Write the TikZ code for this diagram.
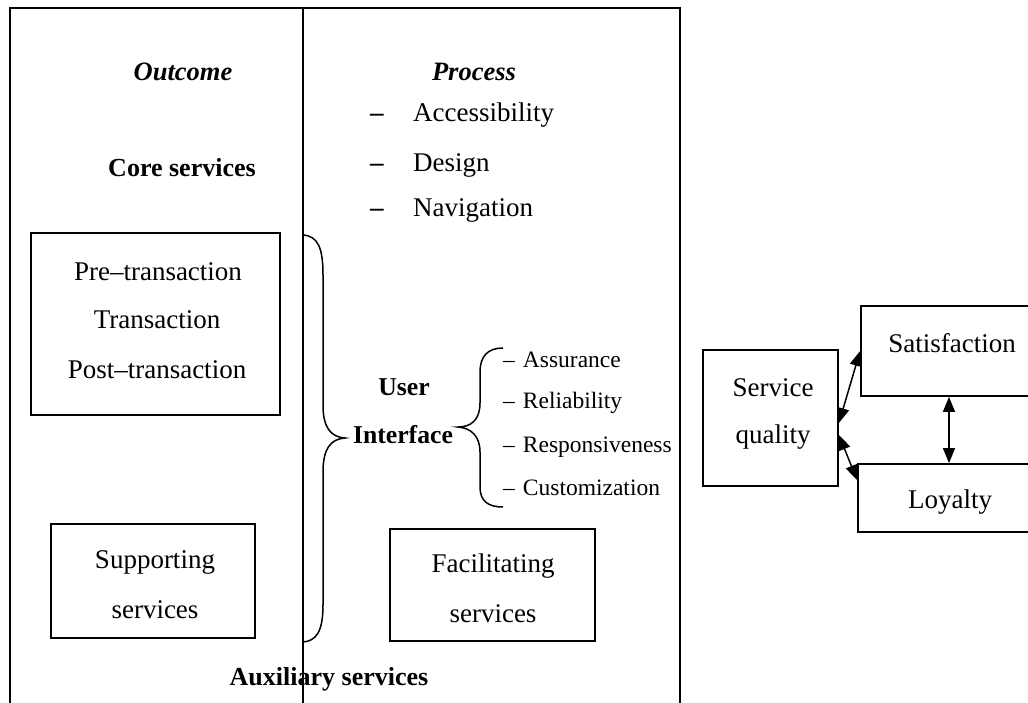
\documentclass[tikz,border=0pt]{standalone}
\usepackage{fontspec}
\setmainfont{Liberation Serif}
\usetikzlibrary{arrows.meta}
\begin{document}
\begin{tikzpicture}[x=1pt,y=-1pt,
  frame/.style={line width=1.8pt},
  boxnode/.style={draw, line width=1.8pt, inner sep=0pt},
  txt/.style={inner sep=0pt, font=\fontsize{27}{32}\selectfont},
  btxt/.style={inner sep=0pt, font=\fontsize{26}{31}\selectfont\bfseries},
  bitxt/.style={inner sep=0pt, font=\fontsize{26.5}{31}\selectfont\bfseries\itshape},
  stxt/.style={inner sep=0pt, font=\fontsize{23.5}{28}\selectfont},
  uitxt/.style={inner sep=0pt, font=\fontsize{25.7}{30}\selectfont\bfseries},
  brace/.style={line width=1.5pt},
  dbl/.style={line width=1.5pt, {Triangle[length=15pt,width=12pt]}-{Triangle[length=15pt,width=12pt]}}
]
\useasboundingbox[fill=white] (0,0) rectangle (1028,702);

% panels
\draw[frame] (10,720) -- (10,8) -- (680,8) -- (680,720);
\draw[frame] (303,8) -- (303,720);

% headings
\node[bitxt] (outcome) at (183,72) {Outcome};
\node[bitxt] (process) at (474,72) {Process};
\node[btxt] (core) at (182,168) {Core services};

% process list
\node[txt, anchor=west] (acc) at (370,115) {{\bfseries –}\hspace{29.5pt}Accessibility};
\node[txt, anchor=west] (des) at (370,165) {{\bfseries –}\hspace{29.5pt}Design};
\node[txt, anchor=west] (nav) at (370,210) {{\bfseries –}\hspace{29.5pt}Navigation};

% left boxes
\node[boxnode, minimum width=249pt, minimum height=182pt] (pre) at (155.5,324) {};
\node[txt] (pre1) at (158,272) {Pre–transaction};
\node[txt] (pre2) at (157,320) {Transaction};
\node[txt] (pre3) at (157,370) {Post–transaction};

\node[boxnode, minimum width=204pt, minimum height=114pt] (supp) at (153,581) {};
\node[txt] (supp1) at (155,562) {Supporting};
\node[txt] (supp2) at (155,610) {services};

% big brace
\draw[brace] (303,235) .. controls (318,236) and (323,248) .. (323,275)
  -- (323,405) .. controls (323,428) and (331,437) .. (345,438)
  .. controls (331,439) and (323,448) .. (323,472)
  -- (323,605) .. controls (323,632) and (316,641) .. (303,642);

% user interface
\node[uitxt] (user) at (404,387) {User};
\node[uitxt] (iface) at (403,435) {Interface};

% small brace
\draw[brace] (503,348) .. controls (488,348) and (480,356) .. (480,372)
  -- (480,403) .. controls (480,420) and (471,427) .. (458,427)
  .. controls (471,428) and (480,436) .. (480,452)
  -- (480,487) .. controls (480,501) and (488,507) .. (503,507);

\node[stxt, anchor=west] (ass) at (503,360) {–\hspace{8pt}Assurance};
\node[stxt, anchor=west] (rel) at (503,403) {–\hspace{8pt}Reliability};
\node[stxt, anchor=west] (res) at (503,447) {–\hspace{8pt}Responsiveness};
\node[stxt, anchor=west] (cus) at (503,488) {–\hspace{8pt}Customization};

% facilitating
\node[boxnode, minimum width=205pt, minimum height=112pt] (fac) at (492.5,585) {};
\node[txt] (fac1) at (493,566) {Facilitating};
\node[txt] (fac2) at (493,614) {services};

\node[btxt] (aux) at (329,679) {Auxiliary services};

% right part
\node[boxnode, minimum width=135pt, minimum height=136pt] (sq) at (770.5,418) {};
\node[txt] (sq1) at (773,388) {Service};
\node[txt] (sq2) at (773,437) {quality};

\node[boxnode, minimum width=183pt, minimum height=90pt] (sat) at (952.5,351) {};
\node[txt] (sat1) at (952,343) {Satisfaction};

\node[boxnode, minimum width=184pt, minimum height=68pt] (loy) at (950,498) {};
\node[txt] (loy1) at (950,502) {Loyalty};

\draw[dbl] ([yshift=-5pt]sq.east) -- (sat.west);
\draw[dbl] ([yshift=-17pt]sq.east) -- ([yshift=18pt]loy.west);
\coordinate (va) at ([xshift=-3.5pt]sat.south);
\draw[dbl] (va) -- (va |- loy.north);
\end{tikzpicture}
\end{document}
